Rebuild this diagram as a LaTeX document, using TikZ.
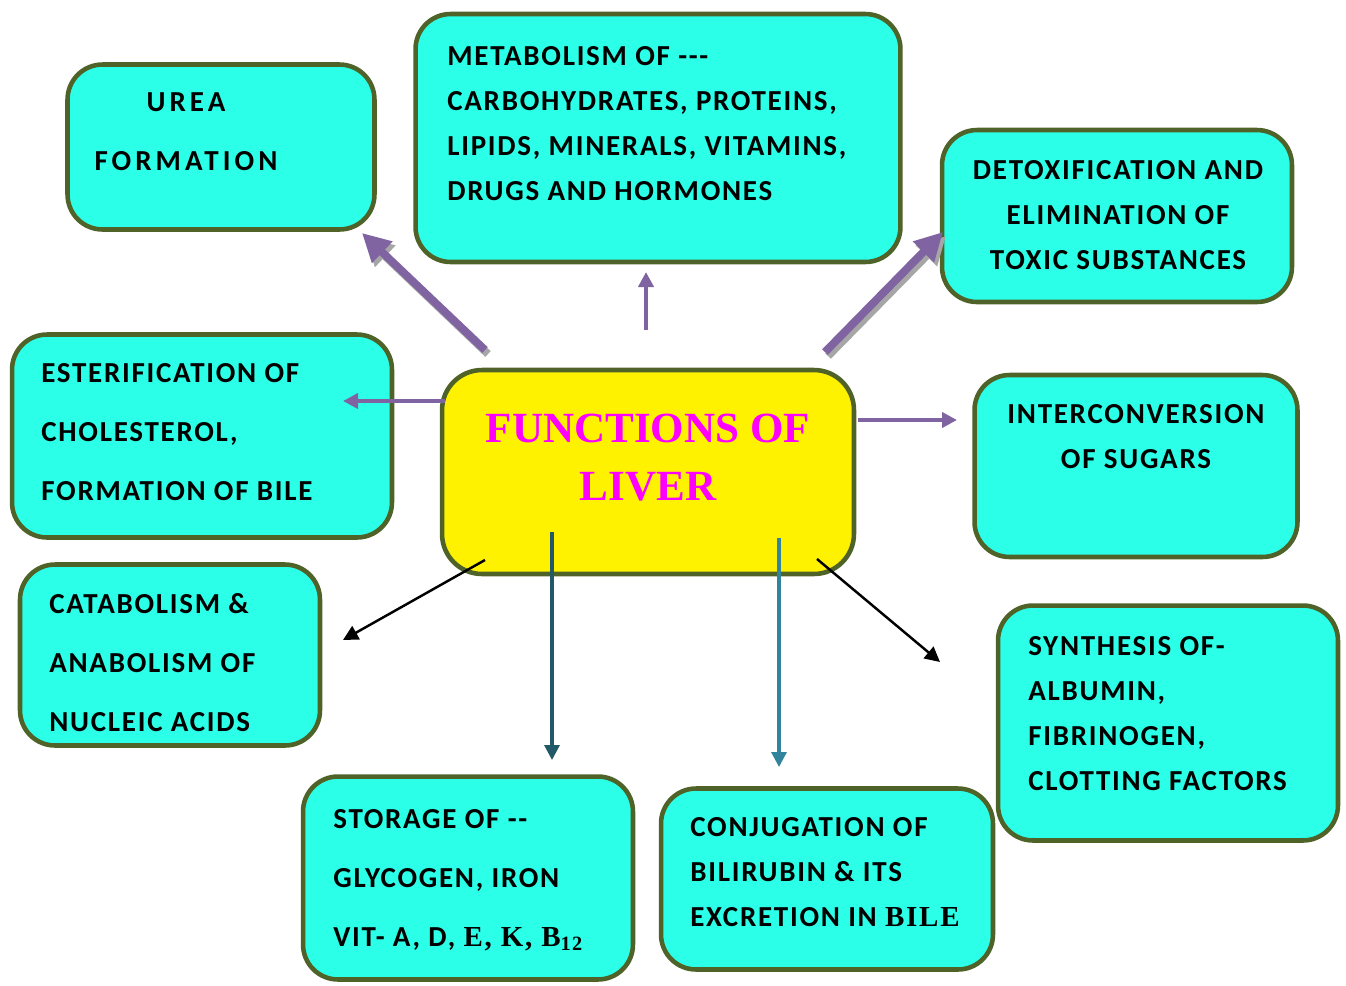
\documentclass[tikz,border=0pt]{standalone}
\usepackage{fontspec}
\setmainfont{Carlito}[LetterSpace=6]
\newfontfamily\tnr{Liberation Serif}[LetterSpace=6]
\newfontfamily\ttl{Liberation Serif}
\usepackage{tikz}
\usetikzlibrary{arrows.meta,positioning}
\definecolor{aqua}{HTML}{2CFFE8}
\definecolor{olive}{HTML}{4F6228}
\definecolor{lilac}{HTML}{8064A2}
\definecolor{deepteal}{HTML}{215968}
\definecolor{seateal}{HTML}{31849B}
\definecolor{pink}{HTML}{FF00FF}

\begin{document}
\begin{tikzpicture}[
  x=0.02cm,y=-0.02cm,
  box/.style={draw=olive,fill=aqua,line width=2.6pt,rounded corners=0.7cm,inner sep=0pt},
  txt/.style={inner sep=0pt,font=\bfseries\fontsize{16.5}{25.6}\selectfont},
  wide/.style={txt,font=\bfseries\fontsize{16.5}{33.5}\selectfont},
  fat/.style={-{Triangle[length=0.56cm,width=0.56cm]},line width=4.5pt,draw=lilac},
  fatshade/.style={-{Triangle[length=0.56cm,width=0.56cm]},line width=4.5pt,draw=black!35},
  thin/.style={-{Triangle[length=0.3cm,width=0.3cm]},line width=2.2pt,draw=lilac},
  dark/.style={-{Triangle[length=0.3cm,width=0.3cm]},line width=1.4pt},
  teal/.style={-{Triangle[length=0.3cm,width=0.3cm]},line width=1.8pt}]
  \useasboundingbox (0,0) rectangle (1346,985);
  % boxes
  \node[box,minimum width=6.14cm,minimum height=3.3cm] (urea) at (221,147) {};
  \node[box,minimum width=9.7cm,minimum height=4.96cm] (metab) at (658,138) {};
  \node[box,minimum width=7cm,minimum height=3.44cm] (detox) at (1117,216) {};
  \node[box,minimum width=7.6cm,minimum height=4.06cm] (ester) at (202,436) {};
  \node[box,fill=yellow,minimum width=8.24cm,minimum height=4.08cm,rounded corners=0.8cm] (liver) at (648,472) {};
  \node[box,minimum width=6.46cm,minimum height=3.64cm] (inter) at (1136,466) {};
  \node[box,minimum width=6cm,minimum height=3.62cm] (catab) at (170,655) {};
  \node[box,minimum width=6.8cm,minimum height=4.7cm] (synth) at (1168,723) {};
  \node[box,minimum width=6.6cm,minimum height=4.06cm] (stor) at (468,878) {};
  \node[box,minimum width=6.64cm,minimum height=3.62cm] (conj) at (827,879) {};
  % texts
  \node[wide,anchor=north,align=center,font=\bfseries\fontsize{16.5}{33.5}\selectfont\addfontfeature{LetterSpace=14}] (ureat) at (186,92) {UREA\\FORMATION};
  \node[txt,anchor=north west,align=left] (metabt) at (447,46) {METABOLISM OF -{}-{}-\\CARBOHYDRATES, PROTEINS,\\LIPIDS, MINERALS, VITAMINS,\\DRUGS AND HORMONES};
  \node[txt,anchor=north,align=center] (detoxt) at (1118,160) {DETOXIFICATION AND\\ELIMINATION OF\\TOXIC SUBSTANCES};
  \node[wide,anchor=north west,align=left] (estert) at (41,363) {ESTERIFICATION OF\\CHOLESTEROL,\\FORMATION OF BILE};
  \node[inner sep=0pt,anchor=north,align=center,text=pink,font=\ttl\bfseries\fontsize{24.5}{33}\selectfont] (livert) at (648,414) {FUNCTIONS OF\\LIVER};
  \node[txt,anchor=north,align=center] (intert) at (1136,404) {INTERCONVERSION\\OF SUGARS};
  \node[wide,anchor=north west,align=left] (catabt) at (49,593) {CATABOLISM \&\\ANABOLISM OF\\NUCLEIC ACIDS};
  \node[txt,anchor=north west,align=left] (syntht) at (1028,636) {SYNTHESIS OF-\\ALBUMIN,\\FIBRINOGEN,\\CLOTTING FACTORS};
  \node[wide,anchor=north west,align=left] (stort) at (333,809) {STORAGE OF -{}-\\GLYCOGEN, IRON\\VIT- A, D, {\tnr E, K, B\textsubscript{12}}};
  \node[txt,anchor=north west,align=left] (conjt) at (690,817) {CONJUGATION OF\\BILIRUBIN \& ITS\\EXCRETION IN {\tnr BILE}};
  % arrow ends
  \coordinate (u0) at (485,350); \coordinate (u1) at (362,233);
  \coordinate (m0) at (646,330); \coordinate (m1) at (646,272);
  \coordinate (d0) at (825,352); \coordinate (d1) at (943,232);
  \coordinate (e0) at (445,401); \coordinate (e1) at (343,401);
  \coordinate (i0) at (858,420); \coordinate (i1) at (957,420);
  \coordinate (c0) at (485,560); \coordinate (c1) at (343,640);
  \coordinate (s0) at (552,532); \coordinate (s1) at (552,760);
  \coordinate (j0) at (779,538); \coordinate (j1) at (779,767);
  \coordinate (y0) at (817,559); \coordinate (y1) at (940,662);
  % arrows
  \draw[fatshade] ([shift={(3,4)}]u0) -- ([shift={(3,4)}]u1);
  \draw[fat] (u0) -- (u1);
  \draw[fatshade] ([shift={(3,4)}]d0) -- ([shift={(3,4)}]d1);
  \draw[fat] (d0) -- (d1);
  \draw[thin] (m0) -- (m1);
  \draw[thin] (e0) -- (e1);
  \draw[thin] (i0) -- (i1);
  \draw[dark] (c0) -- (c1);
  \draw[dark] (y0) -- (y1);
  \draw[teal,draw=deepteal,fill=deepteal] (s0) -- (s1);
  \draw[teal,draw=seateal,fill=seateal] (j0) -- (j1);
\end{tikzpicture}
\end{document}
